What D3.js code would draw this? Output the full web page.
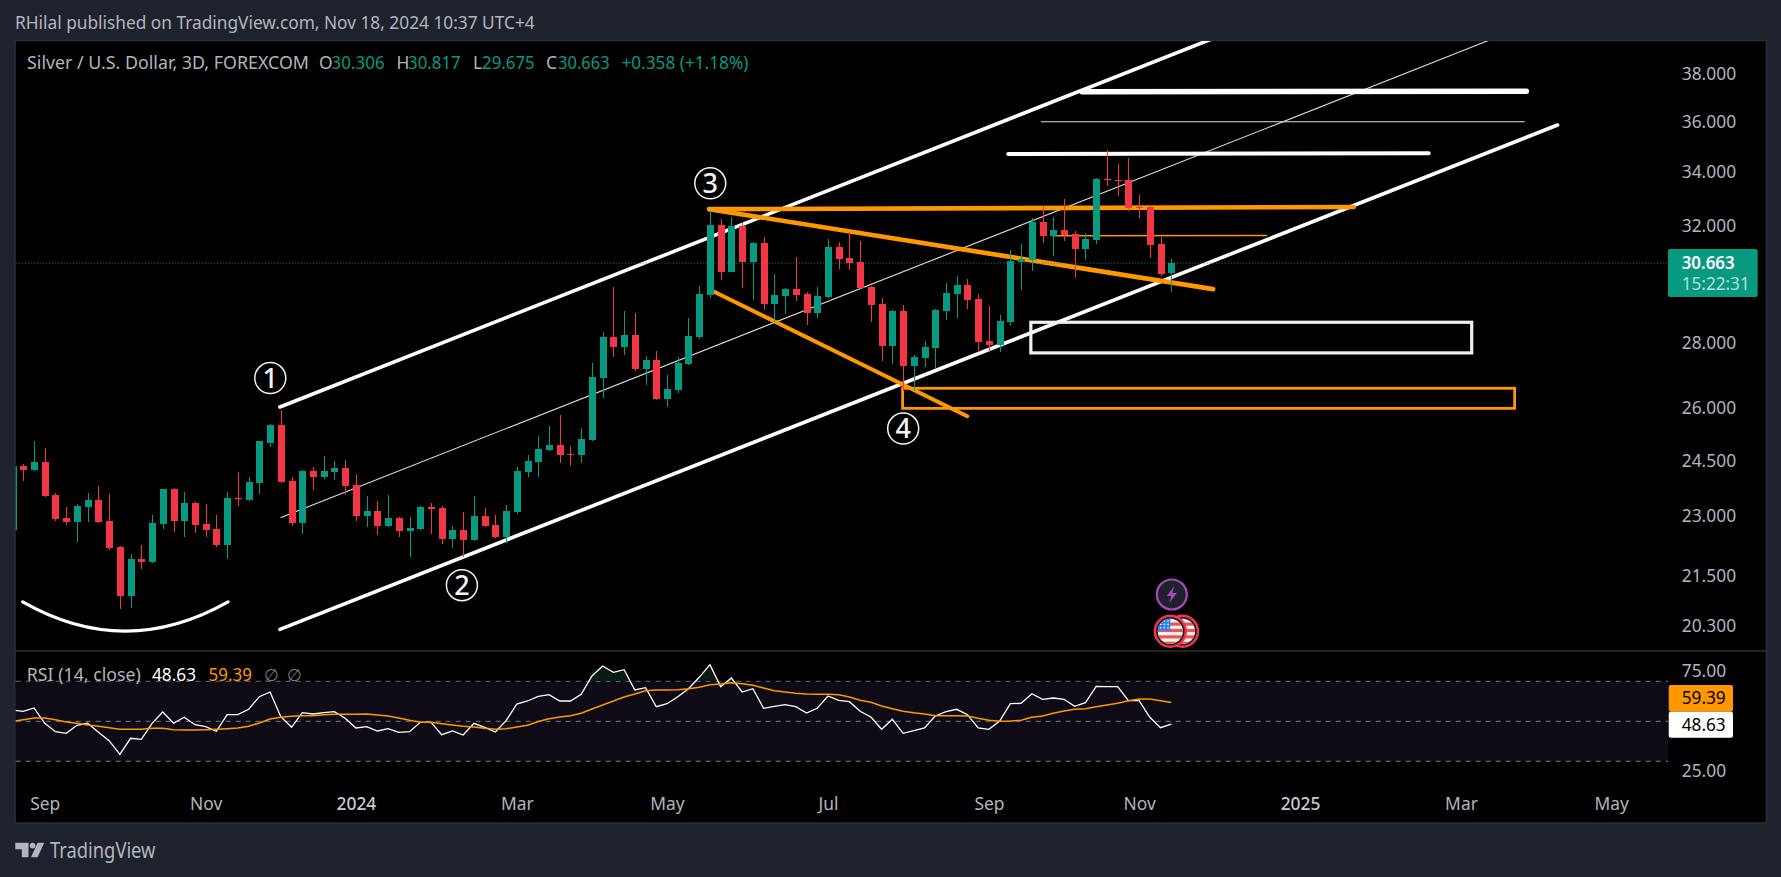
<!DOCTYPE html>
<html>
<head>
<meta charset="utf-8">
<script src="https://cdnjs.cloudflare.com/ajax/libs/d3/7.8.5/d3.min.js"></script>
<style>
html, body { margin: 0; padding: 0; background: #1e222d; }
svg { display: block; }
text { font-family: "Noto Sans", sans-serif; }
</style>
</head>
<body>
<div class="chart"></div>
<script>
// Silver / USD 3D candles, one entry per bar
const opens = [
  22.65,24.35,24.24,24.45,23.56,22.95,22.85,23.24,23.43,22.87,
  22.21,21.00,21.90,21.83,22.80,23.72,22.87,23.35,22.80,22.67,
  22.26,23.48,23.43,23.88,25.01,25.50,23.93,22.82,24.21,24.04,
  24.18,24.29,23.83,23.01,23.14,22.75,22.95,22.62,22.67,23.24,
  23.22,22.41,22.65,22.39,23.01,22.77,22.46,23.11,24.18,24.45,
  24.79,24.93,24.68,24.65,25.07,26.91,28.19,27.88,28.26,27.19,
  27.46,26.27,26.54,27.34,28.19,29.57,32.02,30.36,31.98,30.70,
  31.37,29.27,29.54,29.77,29.60,28.97,29.50,31.22,30.84,30.70,
  29.84,29.27,27.91,29.03,27.28,27.53,27.85,29.03,29.60,29.91,
  29.43,28.07,27.94,28.68,30.70,30.77,32.13,31.62,31.84,31.69,
  31.16,31.47,33.74,33.70,33.70,32.68,32.68,31.33,30.306]
const closes = [
  24.35,24.24,24.45,23.54,22.93,22.85,23.27,23.43,22.85,22.19,
  21.00,21.90,21.83,22.82,23.72,22.87,23.35,22.77,22.65,22.26,
  23.48,23.46,23.91,25.04,25.50,23.91,22.82,24.21,24.04,24.21,
  24.29,23.80,23.01,23.14,22.75,22.95,22.62,22.70,23.24,23.19,
  22.41,22.65,22.39,23.01,22.75,22.46,23.14,24.21,24.48,24.82,
  24.93,24.65,24.65,25.10,26.94,28.19,27.88,28.26,27.19,27.46,
  26.27,26.57,27.37,28.22,29.60,32.02,30.36,31.98,30.70,31.37,
  29.27,29.57,29.77,29.57,28.97,29.54,31.22,30.80,30.67,29.81,
  29.24,27.91,29.03,27.28,27.56,27.88,29.07,29.64,29.91,29.40,
  28.04,27.94,28.71,30.74,30.80,32.13,31.62,31.84,31.66,31.16,
  31.51,33.74,33.70,33.66,32.65,32.65,31.30,30.29,30.663]
const highs = [
  24.50,24.40,25.04,24.85,23.62,23.24,23.32,23.62,23.80,23.59,
  22.23,22.03,22.26,23.03,23.72,23.75,23.64,23.38,23.32,23.03,
  23.64,24.18,24.04,25.06,25.53,25.95,24.04,24.24,24.32,24.62,
  24.48,24.51,24.12,23.54,23.40,23.56,22.97,22.98,23.26,23.35,
  23.27,22.75,23.11,23.54,23.22,23.03,23.30,24.32,24.65,25.19,
  25.47,25.80,24.90,25.42,27.37,28.35,29.83,29.03,28.97,27.59,
  27.75,27.00,27.56,28.80,29.87,32.53,32.24,32.31,32.13,31.40,
  31.59,30.29,29.81,30.88,29.67,29.84,31.51,31.40,31.77,31.44,
  29.86,29.47,29.07,29.24,27.62,28.07,29.10,29.98,30.22,30.12,
  29.60,29.20,28.90,31.12,31.33,32.27,32.72,32.31,32.98,31.80,
  31.73,33.78,34.87,34.32,34.56,33.13,32.76,31.59,30.817]
const lows = [
  22.50,23.93,24.21,23.51,22.87,22.77,22.34,22.85,22.83,22.14,
  20.70,20.73,21.66,21.81,22.67,22.59,22.46,22.56,22.46,22.21,
  21.90,23.27,23.41,23.59,24.87,23.89,22.75,22.54,23.69,23.99,
  23.96,23.56,22.87,22.72,22.51,22.73,22.46,21.96,22.65,22.54,
  22.29,22.19,21.96,22.37,22.73,22.44,22.31,23.06,24.04,24.04,
  24.76,24.43,24.35,24.43,25.05,26.30,27.56,27.62,27.13,26.70,
  26.25,26.03,26.45,27.31,28.13,29.47,30.08,30.34,29.81,29.40,
  29.07,28.68,28.94,29.37,28.58,28.80,29.48,30.46,30.43,29.79,
  28.68,27.43,27.34,26.51,26.51,27.25,27.22,28.74,28.80,29.10,
  27.75,27.72,27.72,28.55,29.74,30.39,31.37,30.91,31.44,30.15,
  30.77,31.33,33.47,33.10,32.53,32.27,30.84,30.22,29.675]

const rsi = [
  55.65,55.0,56.65,49.0,44.8,44.0,48.0,49.0,44.5,40.3,
  33.5,41.5,41.0,49.0,54.65,49.0,52.0,48.3,47.3,45.0,
  53.3,53.3,56.0,62.3,64.65,52.3,47.0,54.3,53.65,54.3,
  54.8,51.5,46.65,47.3,45.15,46.3,44.5,44.8,49.5,49.5,
  43.3,45.15,43.15,49.0,47.0,44.65,50.3,58.65,60.15,62.5,
  63.3,60.15,60.15,63.5,72.65,77.65,74.5,75.8,65.65,66.8,
  57.3,58.8,62.3,66.3,72.0,78.3,67.3,71.65,64.65,66.3,
  56.5,57.5,58.3,57.3,54.15,56.5,62.65,60.5,59.8,55.0,
  52.15,46.0,51.0,44.0,45.3,46.65,52.65,54.8,56.0,53.3,
  46.65,46.0,50.15,58.8,59.0,63.8,61.0,61.65,61.0,57.5,
  59.3,67.5,67.3,67.3,60.3,60.3,52.0,46.8,48.63]
const rsiMa = [
  50.0,50.8,51.65,51.65,50.8,49.65,49.0,48.15,47.5,46.8,
  46.0,46.0,46.0,46.5,46.5,45.8,45.65,45.65,45.8,46.0,
  46.3,46.65,47.5,49.15,51.15,52.0,52.5,52.8,52.8,53.3,
  53.5,53.5,53.5,53.65,53.15,52.65,51.65,50.5,49.5,49.5,
  48.8,48.15,47.5,47.15,46.5,46.0,46.3,47.15,48.0,49.9,
  51.3,52.15,52.8,54.0,56.15,58.15,60.15,62.15,63.65,65.3,
  65.65,65.65,65.8,66.3,67.0,68.3,68.65,69.3,68.8,68.0,
  66.65,65.3,64.65,64.0,63.65,63.5,63.5,63.3,62.15,60.5,
  59.5,57.65,56.3,55.0,54.3,53.65,52.8,52.8,52.8,52.65,
  51.5,50.5,50.0,50.15,50.5,52.0,52.65,54.0,55.15,56.0,
  56.3,57.3,58.15,59.0,60.3,61.15,61.15,60.3,59.39]

const priceTicks = [38, 36, 34, 32, 28, 26, 24.5, 23, 21.5, 20.3]
const rsiTicks = [75, 25]
const rsiLevels = [70, 50, 30]
const timeTicks = [3, 18, 32, 47, 61, 76, 91, 105, 120, 135, 149]
const timeLabels = ["Sep", "Nov", "2024", "Mar", "May", "Jul", "Sep", "Nov", "2025", "Mar", "May"]

// drawings, as [bar index, price] end points
const whiteThick = [
  [[24.92, 26.04], [115, 40.17]],
  [[24.92, 20.23], [144, 35.87]]
]
const whiteThin = [
  [[25.02, 22.97], [137.5, 39.47]],
  [[95.89, 36.0], [140.9, 36.0]]
]
const resistanceTop = [[99.67, 37.25], [141.1, 37.27]]
const resistanceMid = [[92.8, 34.71], [132, 34.74]]
const orangeLines = [
  [[64.93, 32.60], [125.0, 32.68]],
  [[64.93, 32.60], [111.9, 29.77]]
]
const orangeLower = [[65.3, 29.70], [88.98, 25.77]]
const orangeThin = [[96.99, 31.63], [116.88, 31.64]]
const bowl = [[0.944, 20.87], [10.48, 19.53], [20.08, 20.87]]
const orangeZone = { x0: 82.96, x1: 140.0, top: 26.60, bottom: 26.0 }
const whiteZone = { x0: 94.91, x1: 136.0, top: 28.67, bottom: 27.69 }
const waves = [
  { label: "1", i: 24.02, p: 26.91 },
  { label: "2", i: 41.88, p: 21.27 },
  { label: "3", i: 65.03, p: 33.57 },
  { label: "4", i: 83.01, p: 25.41 }
]

const width = 1781
const height = 877
const upColor = "#089981"
const downColor = "#f23645"
const orange = "#ff9800"
const textColor = "#b2b5be"
const plotLeft = 15.7
const plotRight = 1668
const plotTop = 41
const splitY = 651
const panelBottom = 823

const x = d3.scaleLinear().domain([0, 108]).range([12.57, 1171.3])
const y = d3.scaleLog().domain([19.76, 39.46]).range([650, 41])
const yRsi = d3.scaleLinear().domain([30, 70]).range([761.3, 681.3])

const svg = d3.select(".chart").append("svg")
    .attr("width", width)
    .attr("height", height)
    .attr("viewBox", [0, 0, width, height])

const defs = svg.append("defs")
defs.append("clipPath").attr("id", "main-clip").append("rect")
    .attr("x", plotLeft).attr("y", plotTop)
    .attr("width", plotRight - plotLeft).attr("height", splitY - plotTop)
defs.append("clipPath").attr("id", "rsi-clip").append("rect")
    .attr("x", plotLeft).attr("y", splitY)
    .attr("width", plotRight - plotLeft).attr("height", 140)
defs.append("clipPath").attr("id", "over70").append("rect")
    .attr("x", plotLeft).attr("y", splitY)
    .attr("width", plotRight - plotLeft).attr("height", yRsi(70) - splitY)

svg.append("rect").attr("width", width).attr("height", height).attr("fill", "#1e222d")
svg.append("rect")
    .attr("x", 15).attr("y", 40.5)
    .attr("width", 1751.5).attr("height", panelBottom - 40.5)
    .attr("fill", "#000").attr("stroke", "#2a2e39").attr("stroke-width", 1.5)
svg.append("line")
    .attr("x1", 15).attr("x2", 1766.5).attr("y1", splitY).attr("y2", splitY)
    .attr("stroke", "#2a2e39").attr("stroke-width", 1.5)

function label(parent, str, px, py, opts) {
    opts = opts || {}
    const t = parent.append("text")
        .attr("x", px).attr("y", py)
        .attr("dy", "0.35em")
        .attr("font-size", opts.size || 17.4)
        .attr("font-weight", opts.weight || 400)
        .attr("fill", opts.fill || textColor)
        .text(str)
    if (opts.len) t.attr("textLength", opts.len).attr("lengthAdjust", "spacingAndGlyphs")
    return t
}

// header + legend
const head = svg.append("g")
label(head, "RHilal published on TradingView.com, Nov 18, 2024 10:37 UTC+4", 15, 23.3, { len: 519.7 })
label(head, "Silver / U.S. Dollar, 3D, FOREXCOM", 27, 63.3, { len: 282 })
const ohlc = [
    ["O", 319, "30.306", 331.6, 53],
    ["H", 396.4, "30.817", 408, 52.7],
    ["L", 473, "29.675", 482, 52.7],
    ["C", 546, "30.663", 558, 51.7]
]
ohlc.forEach(d => {
    label(head, d[0], d[1], 63.3)
    label(head, d[2], d[3], 63.3, { fill: upColor, len: d[4] })
})
label(head, "+0.358 (+1.18%)", 621.4, 63.3, { fill: upColor, len: 127 })

// main pane: drawings sit under the candles
const main = svg.append("g").attr("clip-path", "url(#main-clip)")
const line2 = d3.line().x(d => x(d[0])).y(d => y(d[1]))

function stroke(pts, color, w, cap) {
    main.append("path")
        .attr("d", line2(pts))
        .attr("fill", "none")
        .attr("stroke", color)
        .attr("stroke-width", w)
        .attr("stroke-linecap", cap || "round")
}

whiteThick.forEach(l => stroke(l, "#fff", 3.6))
whiteThin.forEach(l => stroke(l, "#e0e0e0", 1.1))
stroke(resistanceTop, "#fff", 5.4)
stroke(resistanceMid, "#fff", 4)
orangeLines.forEach(l => stroke(l, orange, 4.6))
stroke(orangeLower, orange, 4)
stroke(orangeThin, orange, 1.4)

const bowlPath = d3.path()
bowlPath.moveTo(x(bowl[0][0]), y(bowl[0][1]))
bowlPath.quadraticCurveTo(x(bowl[1][0]), y(bowl[1][1]), x(bowl[2][0]), y(bowl[2][1]))
main.append("path").attr("d", bowlPath.toString())
    .attr("fill", "none").attr("stroke", "#fff").attr("stroke-width", 3.2).attr("stroke-linecap", "round")

function zone(z, color, w) {
    main.append("rect")
        .attr("x", x(z.x0)).attr("y", y(z.top))
        .attr("width", x(z.x1) - x(z.x0)).attr("height", y(z.bottom) - y(z.top))
        .attr("fill", "none").attr("stroke", color).attr("stroke-width", w)
}
zone(orangeZone, orange, 2.8)
zone(whiteZone, "#f0f0f0", 3.2)

// price line
main.append("line")
    .attr("x1", plotLeft).attr("x2", plotRight)
    .attr("y1", y(30.663)).attr("y2", y(30.663))
    .attr("stroke", upColor).attr("stroke-width", 1).attr("stroke-dasharray", "1 2")

const bars = d3.range(opens.length).map(i => ({
    i, o: opens[i], c: closes[i], h: highs[i], l: lows[i]
}))
const candle = main.selectAll("g.candle").data(bars).join("g").attr("class", "candle")
    .attr("fill", d => d.c >= d.o ? upColor : downColor)
    .attr("shape-rendering", "crispEdges")
candle.append("rect")
    .attr("x", d => Math.round(x(d.i)) - 0.5).attr("width", 1.4)
    .attr("y", d => y(d.h)).attr("height", d => y(d.l) - y(d.h))
candle.append("rect")
    .attr("x", d => Math.round(x(d.i)) - 3.5).attr("width", 7)
    .attr("y", d => y(Math.max(d.o, d.c)))
    .attr("height", d => Math.max(1, y(Math.min(d.o, d.c)) - y(Math.max(d.o, d.c))))

// wave labels
const wave = main.selectAll("g.wave").data(waves).join("g").attr("class", "wave")
    .attr("transform", d => `translate(${x(d.i)},${y(d.p)})`)
wave.append("circle").attr("r", 15.5).attr("fill", "#000").attr("stroke", "#f4f4f4").attr("stroke-width", 1.5)
wave.append("text")
    .attr("text-anchor", "middle").attr("dy", "0.36em")
    .attr("font-size", 27).attr("font-weight", 500).attr("fill", "#f4f4f4")
    .text(d => d.label)

// event marks above the time scale, on the last bar
const lastX = x(108)
const events = svg.append("g")
events.append("circle").attr("cx", lastX + 0.5).attr("cy", 594.5).attr("r", 15)
    .attr("fill", "#1e222d").attr("stroke", "#ab47bc").attr("stroke-width", 2.2)
events.append("path")
    .attr("transform", `translate(${lastX + 0.5},594.5)`)
    .attr("d", "M2.5 -8.5 L-5 1.5 H-0.5 L-2.5 8.5 L5 -1.5 H0.5 Z")
    .attr("fill", "#ab47bc")

defs.append("clipPath").attr("id", "flag-front").append("circle").attr("cx", lastX - 1).attr("cy", 631.3).attr("r", 12.5)
defs.append("clipPath").attr("id", "flag-back").append("circle").attr("cx", lastX + 11.2).attr("cy", 631.3).attr("r", 12.5)

function flag(cx, clip) {
    const g = events.append("g")
    g.append("circle").attr("cx", cx).attr("cy", 631.3).attr("r", 15.5)
        .attr("fill", "#1e222d").attr("stroke", downColor).attr("stroke-width", 2.4)
    const f = g.append("g").attr("clip-path", `url(#${clip})`)
    f.append("rect").attr("x", cx - 13).attr("y", 618).attr("width", 26).attr("height", 26).attr("fill", "#f5f5f5")
    d3.range(4).forEach(k => {
        f.append("rect").attr("x", cx - 13).attr("y", 622.5 + k * 6.4).attr("width", 26).attr("height", 3.2).attr("fill", "#ef5350")
    })
    f.append("rect").attr("x", cx - 13).attr("y", 618).attr("width", 13).attr("height", 12.5).attr("fill", "#2f80ed")
    d3.range(3).forEach(r => d3.range(3).forEach(c => {
        f.append("circle").attr("cx", cx - 9.5 + c * 3.6).attr("cy", 621 + r * 3.4).attr("r", 0.8).attr("fill", "#fff")
    }))
}
flag(lastX + 11.2, "flag-back")
flag(lastX - 1, "flag-front")

// RSI pane
const rsiPane = svg.append("g")
rsiPane.append("rect")
    .attr("x", plotLeft).attr("y", yRsi(70))
    .attr("width", plotRight - plotLeft).attr("height", yRsi(30) - yRsi(70))
    .attr("fill", "#0e0b16")
rsiPane.selectAll("line.level").data(rsiLevels).join("line").attr("class", "level")
    .attr("x1", plotLeft).attr("x2", plotRight)
    .attr("y1", d => yRsi(d)).attr("y2", d => yRsi(d))
    .attr("stroke", "#787b86").attr("stroke-width", 1).attr("stroke-dasharray", "5 5")

rsiPane.append("path")
    .attr("clip-path", "url(#over70)")
    .attr("d", d3.area().x((d, i) => x(i)).y0(yRsi(70)).y1(d => yRsi(d))(rsi))
    .attr("fill", "#0a1a12")
const rsiPlot = rsiPane.append("g").attr("clip-path", "url(#rsi-clip)")
const lineRsi = d3.line().x((d, i) => x(i)).y(d => yRsi(d))
rsiPlot.append("path").attr("d", lineRsi(rsi))
    .attr("fill", "none").attr("stroke", "#fff").attr("stroke-width", 1.3)
rsiPlot.append("path").attr("d", lineRsi(rsiMa))
    .attr("fill", "none").attr("stroke", orange).attr("stroke-width", 1.5)

label(rsiPane, "RSI (14, close)", 26.8, 675, { len: 114 })
label(rsiPane, "48.63", 152, 675, { fill: "#fff", len: 44 })
label(rsiPane, "59.39", 208.6, 675, { fill: orange, len: 43.4 })
label(rsiPane, "∅", 264, 675, { fill: "#787b86" })
label(rsiPane, "∅", 287, 675, { fill: "#787b86" })

// axes
const axisPrice = svg.append("g")
    .attr("transform", `translate(${plotRight},0)`)
    .call(d3.axisRight(y).tickValues(priceTicks).tickFormat(d3.format(".3f")).tickSize(0).tickPadding(13.7))
const axisRsi = svg.append("g")
    .attr("transform", `translate(${plotRight},0)`)
    .call(d3.axisRight(yRsi).tickValues(rsiTicks).tickFormat(d3.format(".2f")).tickSize(0).tickPadding(13.7))
const axisTime = svg.append("g")
    .attr("transform", "translate(0,804.3)")
    .call(d3.axisBottom(x).tickValues(timeTicks).tickFormat((d, i) => timeLabels[i]).tickSize(0))
axisTime.selectAll("text").attr("y", 0).attr("dy", "0.35em")
    .attr("font-weight", (d, i) => timeLabels[i].length === 4 ? 500 : 400)
    .attr("fill", (d, i) => timeLabels[i].length === 4 ? "#c8cad0" : textColor)
svg.selectAll(".domain").remove()
svg.selectAll(".tick text").attr("font-size", 17.4).attr("font-family", '"Noto Sans", sans-serif')
axisPrice.selectAll("text").attr("fill", textColor)
axisRsi.selectAll("text").attr("fill", textColor)

// last value tags
const tags = svg.append("g")
tags.append("rect").attr("x", 1668).attr("y", 249).attr("width", 89.7).attr("height", 48).attr("rx", 2).attr("fill", upColor)
label(tags, "30.663", 1681.7, 263, { fill: "#fff", weight: 600, len: 53 })
label(tags, "15:22:31", 1681.7, 284, { fill: "#b5e0d6", len: 68 })
tags.append("rect").attr("x", 1668.7).attr("y", 685).attr("width", 64.3).attr("height", 26.7).attr("rx", 2).attr("fill", orange)
tags.append("rect").attr("x", 1668.7).attr("y", 711.7).attr("width", 64.3).attr("height", 26).attr("rx", 2).attr("fill", "#fff")
label(tags, "59.39", 1681.7, 698.3, { fill: "#000", len: 44 })
label(tags, "48.63", 1681.7, 725, { fill: "#000", len: 44 })

// TradingView logo
const logo = svg.append("g").attr("fill", textColor)
logo.append("path").attr("d", "M15.3 842.7H28.5V857.3H21.8V849.2H15.3Z")
logo.append("circle").attr("cx", 32.6).attr("cy", 845.6).attr("r", 2.9)
logo.append("path").attr("d", "M37.6 842.7H44.2L37.6 857.3H31Z")
label(logo, "TradingView", 50, 851, { size: 21, len: 105.5 })
</script>
</body>
</html>
